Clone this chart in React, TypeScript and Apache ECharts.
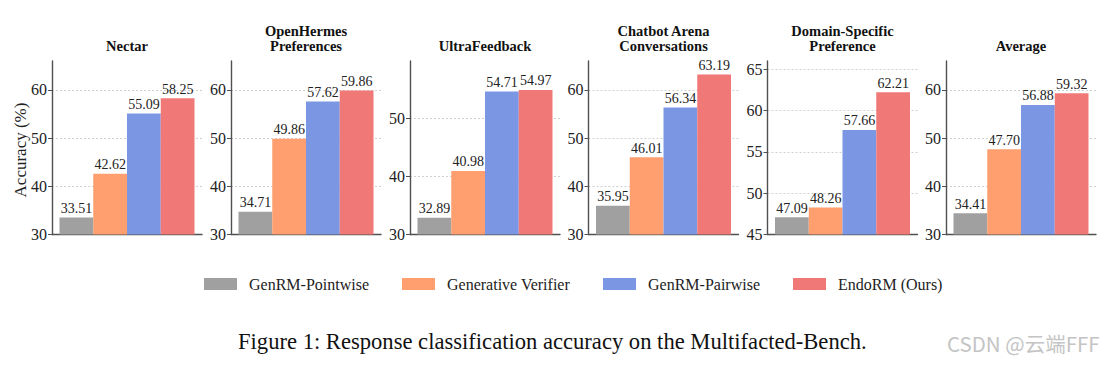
import React, { useEffect, useRef } from 'react';
import * as echarts from 'echarts';

const panels = [
  'Nectar',
  'OpenHermes\nPreferences',
  'UltraFeedback',
  'Chatbot Arena\nConversations',
  'Domain-Specific\nPreference',
  'Average',
];
const methods = ['GenRM-Pointwise', 'Generative Verifier', 'GenRM-Pairwise', 'EndoRM (Ours)'];
const colors = ['#a0a0a0', '#ff9e6e', '#7b97e4', '#f07876'];
const pointwise = [33.51, 34.71, 32.89, 35.95, 47.09, 34.41];
const genVerifier = [42.62, 49.86, 40.98, 46.01, 48.26, 47.7];
const pairwise = [55.09, 57.62, 54.71, 56.34, 57.66, 56.88];
const endorm = [58.25, 59.86, 54.97, 63.19, 62.21, 59.32];
const yMin = [30, 30, 30, 30, 45, 30];
const yMax = [66, 66, 59.97, 66, 66, 66];
const yTicks = [
  [30, 40, 50, 60],
  [30, 40, 50, 60],
  [30, 40, 50],
  [30, 40, 50, 60],
  [45, 50, 55, 60, 65],
  [30, 40, 50, 60],
];
const yLabel = 'Accuracy (%)';
const caption = 'Figure 1: Response classification accuracy on the Multifacted-Bench.';
const watermark = 'CSDN @云端FFF';

const SERIF = "'Liberation Serif', 'Times New Roman', serif";
const axisX = [52, 231, 410, 588.5, 767.5, 946];
const PW = 150;
const TOP = 61;
const PH = 173.5;
const legendX = [204, 402, 603, 793];

export default function App() {
  const ref = useRef<HTMLDivElement>(null);
  useEffect(() => {
    if (!ref.current) return;
    const chart = echarts.init(ref.current, undefined, { renderer: 'svg' });
    const values = [pointwise, genVerifier, pairwise, endorm];
    const grid = panels.map((_, i) => ({ left: axisX[i], top: TOP, width: PW, height: PH }));
    const xAxis = panels.map((_, i) => ({
      type: 'category',
      gridIndex: i,
      data: [panels[i]],
      axisLine: { show: true, lineStyle: { color: '#505050', width: 1.4 } },
      axisTick: { show: false },
      axisLabel: { show: false },
    }));
    const yAxis = panels.map((_, i) => ({
      type: 'value',
      gridIndex: i,
      min: yMin[i],
      max: yMax[i],
      axisLine: { show: true, lineStyle: { color: '#505050', width: 1.4 } },
      axisTick: { show: true, length: 4, lineStyle: { color: '#505050', width: 1 }, customValues: yTicks[i] },
      axisLabel: {
        fontFamily: SERIF,
        fontSize: 16,
        color: '#222',
        margin: 5,
        customValues: yTicks[i],
      },
      splitLine: { show: true, lineStyle: { type: [2, 2], color: '#c4c4c4', width: 0.8 } },
    }));
    const series: any[] = [];
    panels.forEach((_, i) => {
      methods.forEach((m, k) => {
        series.push({
          type: 'bar',
          name: m,
          xAxisIndex: i,
          yAxisIndex: i,
          data: [values[k][i]],
          barGap: '0%',
          barCategoryGap: '10%',
          itemStyle: { color: colors[k] },
          label: {
            show: true,
            position: 'top',
            distance: 2,
            fontFamily: SERIF,
            fontSize: 14,
            color: '#222',
            formatter: (p: any) => Number(p.value).toFixed(2),
          },
        });
      });
    });
    const legend = methods.map((m, k) => ({
      data: [m],
      left: legendX[k],
      top: 276,
      padding: 0,
      itemWidth: 33,
      itemHeight: 12,
      icon: 'rect',
      textStyle: { fontFamily: SERIF, fontSize: 16, color: '#222', padding: [0, 0, 0, 7] },
    }));
    const graphic: any[] = [];
    panels.forEach((t, i) => {
      graphic.push({
        type: 'text',
        x: axisX[i] + PW / 2,
        y: 53,
        style: {
          text: t,
          fontFamily: SERIF,
          fontWeight: 'bold',
          fontSize: 14.5,
          lineHeight: 14.5,
          fill: '#111',
          textAlign: 'center',
          textVerticalAlign: 'bottom',
        },
      });
    });
    graphic.push({
      type: 'text',
      x: 20,
      y: 150,
      rotation: Math.PI / 2,
      style: { text: yLabel, fontFamily: SERIF, fontSize: 17, fill: '#222', textAlign: 'center', textVerticalAlign: 'middle' },
    });
    graphic.push({
      type: 'text',
      x: 238,
      y: 341,
      style: { text: caption, fontFamily: SERIF, fontSize: 22.6, fill: '#111', textAlign: 'left', textVerticalAlign: 'middle' },
    });
    graphic.push({
      type: 'text',
      x: 947,
      y: 343,
      style: { text: watermark, fontFamily: "'Noto Sans CJK SC', 'Noto Sans', sans-serif", fontSize: 20.5, fill: '#c4c4c4', textAlign: 'left', textVerticalAlign: 'middle' },
    });
    chart.setOption({
      animation: false,
      backgroundColor: '#ffffff',
      grid,
      xAxis,
      yAxis,
      series,
      legend,
      graphic,
    });
    return () => chart.dispose();
  }, []);
  return <div ref={ref} style={{ position: 'fixed', left: 0, top: 0, width: 1111, height: 365 }} />;
}
